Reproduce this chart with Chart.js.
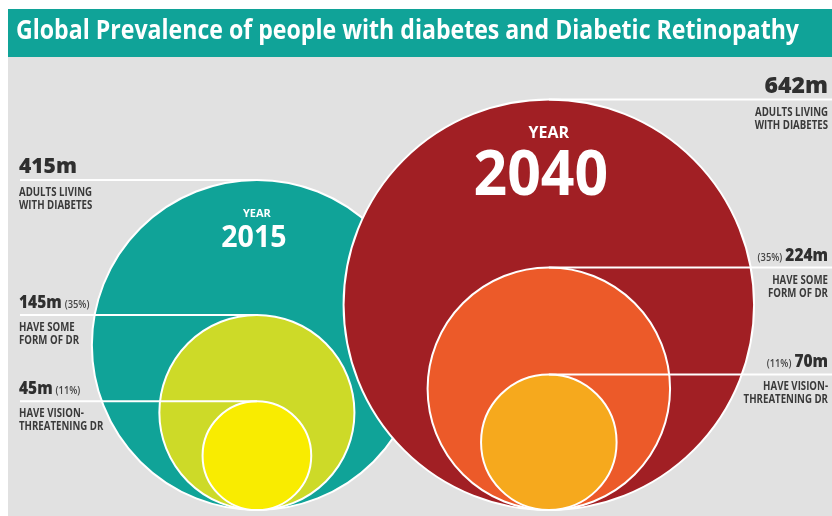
<!DOCTYPE html>
<html>
<head>
<meta charset="utf-8">
<title>Global Prevalence of people with diabetes and Diabetic Retinopathy</title>
<script src="https://cdn.jsdelivr.net/npm/chart.js"></script>
<style>
  html, body { margin: 0; padding: 0; background: #fff; }
  canvas { display: block; }
</style>
</head>
<body>
<canvas id="myChart" width="832" height="516"></canvas>
<script>
// adults, millions
var years = [2015, 2040];
var adults = [415, 642];
var anyDR = [145, 224];
var visionDR = [45, 70];

var adultsText = ['ADULTS LIVING', 'WITH DIABETES'];
var anyText = ['HAVE SOME', 'FORM OF DR'];
var visionText = ['HAVE VISION-', 'THREATENING DR'];

var TITLE = 'Global Prevalence of people with diabetes and Diabetic Retinopathy';
var FONT = '"Open Sans", "Noto Sans", sans-serif';
var INK = '#2f2f2f';

// per-year styling of the "YEAR 2015" tag inside the big circle
var tagSize = [11, 16];
var numSize = [30, 62];
var tagDrop = [37, 38];
var numDrop = [67, 95];
var numShift = [-3, -8];

function pct(part, whole) {
    return '(' + Math.round(part / whole * 100) + '%)';
}

// area follows the value, so radius (and centre height) is sqrt(value)
function points(values) {
    return values.map(function (v, i) {
        return { x: years[i], y: Math.sqrt(v), v: v };
    });
}

// pixel radius = sqrt(value) measured on the y scale
function radiusFromValue(c) {
    if (!c.raw) return 0;
    var y = c.chart.scales.y;
    var r = y.getPixelForValue(0) - y.getPixelForValue(Math.sqrt(c.raw.v));
    return isFinite(r) ? r : 0;
}

// squeeze text a bit, the original face is condensed
function fit(c, s, x, y, k) {
    var w = c.measureText(s).width * k;
    c.fillText(s, x, y, w);
    return w;
}

var backdrop = {
    id: 'backdrop',
    beforeDraw: function (chart) {
        var c = chart.ctx;
        c.save();
        c.fillStyle = '#ffffff';
        c.fillRect(0, 0, chart.width, chart.height);
        c.fillStyle = '#e1e1e1';
        c.fillRect(8, 57, chart.width - 8, chart.height - 57);
        c.fillStyle = '#10a398';
        c.fillRect(8, 9, chart.width - 8, 48);
        c.fillStyle = '#ffffff';
        c.font = 'bold 26px ' + FONT;
        c.textAlign = 'left';
        c.textBaseline = 'alphabetic';
        c.fillText(TITLE, 16, 39, 783);
        c.restore();
    }
};

var callouts = {
    id: 'callouts',
    afterDatasetsDraw: function (chart) {
        var c = chart.ctx;
        var xs = chart.scales.x, ys = chart.scales.y;
        var levels = [
            { vals: adults, text: adultsText, size: [21, 23], k: 1 },
            { vals: anyDR, text: anyText, size: [18, 18], k: 0.86 },
            { vals: visionDR, text: visionText, size: [18, 18], k: 0.86 }
        ];
        c.save();
        c.textBaseline = 'alphabetic';
        years.forEach(function (yr, i) {
            var cx = xs.getPixelForValue(yr);
            var left = i === 0;
            var tx = left ? 19 : 828;
            levels.forEach(function (lv, j) {
                var v = lv.vals[i];
                var top = ys.getPixelForValue(2 * Math.sqrt(v));

                c.strokeStyle = '#ffffff';
                c.lineWidth = 2;
                c.beginPath();
                if (left) { c.moveTo(20, top); c.lineTo(cx, top); }
                else { c.moveTo(cx, top); c.lineTo(chart.width, top); }
                c.stroke();

                c.fillStyle = INK;
                c.textAlign = left ? 'left' : 'right';
                c.font = '800 ' + lv.size[i] + 'px ' + FONT;
                var w = fit(c, v + 'm', tx, top - 7, lv.k);

                if (j > 0) {
                    c.font = '600 11px ' + FONT;
                    c.fillStyle = '#444444';
                    fit(c, pct(v, adults[i]), left ? tx + w + 3 : tx - w - 3, top - 7, 0.85);
                }

                c.fillStyle = '#3a3a3a';
                c.font = 'bold 11.5px ' + FONT;
                fit(c, lv.text[0], tx, top + 16, 0.84);
                fit(c, lv.text[1], tx, top + 29, 0.84);
            });

            var ctop = ys.getPixelForValue(2 * Math.sqrt(adults[i]));
            c.fillStyle = '#ffffff';
            c.textAlign = 'center';
            c.font = 'bold ' + tagSize[i] + 'px ' + FONT;
            c.fillText('YEAR', cx, ctop + tagDrop[i]);
            c.font = 'bold ' + numSize[i] + 'px ' + FONT;
            fit(c, String(yr), cx + numShift[i], ctop + numDrop[i], 0.95);
        });
        c.restore();
    }
};

function ring(label, values, colours, order) {
    return {
        label: label,
        data: points(values),
        showLine: false,
        pointRadius: radiusFromValue,
        pointHoverRadius: radiusFromValue,
        pointBackgroundColor: colours,
        pointBorderColor: '#ffffff',
        pointBorderWidth: 2,
        clip: false,
        order: order
    };
}

var ctx = document.getElementById('myChart');

var graphData = {
    type: 'scatter',
    data: {
        datasets: [
            ring('Adults living with diabetes', adults, ['#10a398', '#a11f24'], 3),
            ring('Some form of DR', anyDR, ['#cdda28', '#ec5a29'], 2),
            ring('Vision-threatening DR', visionDR, ['#f9ec00', '#f6a91d'], 1)
        ]
    },
    options: {
        responsive: false,
        animation: false,
        events: [],
        layout: { padding: 0 },
        plugins: {
            legend: { display: false },
            tooltip: { enabled: false }
        },
        scales: {
            x: { type: 'linear', display: false, min: 1993, max: 2064.25 },
            y: { type: 'linear', display: false, min: -0.74, max: 62.96 }
        }
    },
    plugins: [backdrop, callouts]
};

var myChart = new Chart(ctx, graphData);
</script>
</body>
</html>
